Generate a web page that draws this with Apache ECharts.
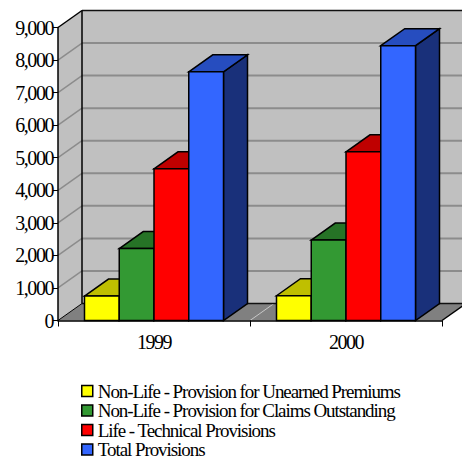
<!DOCTYPE html>
<html>
<head>
<meta charset="utf-8">
<style>
html,body{margin:0;padding:0;background:#fff}
#chart{width:462px;height:459px}
#chart text{letter-spacing:-1.45px}
#chart text[style*="19px"]{letter-spacing:-1.06px}
</style>
<script src="https://cdn.jsdelivr.net/npm/echarts@6/dist/echarts.min.js"></script>
</head>
<body>
<div id="chart"></div>
<script>
const years = ['1999', '2000'];
const yTicks = [0, 1000, 2000, 3000, 4000, 5000, 6000, 7000, 8000, 9000];
const unearnedPremiums = [750, 760];
const claimsOutstanding = [2210, 2470];
const technicalProvisions = [4660, 5180];
const totalProvisions = [7640, 8440];

const seriesNames = [
  'Non-Life - Provision for Unearned Premiums',
  'Non-Life - Provision for Claims Outstanding',
  'Life - Technical Provisions',
  'Total Provisions'
];
const seriesValues = [unearnedPremiums, claimsOutstanding, technicalProvisions, totalProvisions];
const faceColors = ['#ffff00', '#339933', '#ff0000', '#3366ff'];
const topColors = ['#bfbf00', '#267326', '#bf0000', '#264dbf'];
const sideColors = ['#808000', '#1a4d1a', '#800000', '#19307a'];

// Oblique projection of the chart box, in pixels
const DEPTH_X = 24;
const DEPTH_Y = -17;
const SERIES_COUNT = 4;
const BAR_SHARE = 0.181;   // one bar as a share of the category band

const FONT = '"Liberation Serif", serif';

function poly(points, fill, stroke, width) {
  return {
    type: 'polygon',
    shape: { points },
    style: { fill, stroke: stroke || null, lineWidth: width || 0, lineJoin: 'miter' }
  };
}
function line(x1, y1, x2, y2, stroke, width) {
  return {
    type: 'line',
    shape: { x1, y1, x2, y2 },
    style: { stroke, lineWidth: width, fill: null }
  };
}

// Walls, floor and gridlines of the 3D box
function renderBox(params, api) {
  const cs = params.coordSys;
  const left = cs.x, right = cs.x + cs.width;
  const bottom = api.coord([0, 0])[1];
  const top = api.coord([0, yTicks[yTicks.length - 1]])[1];
  const dx = DEPTH_X, dy = DEPTH_Y;
  const kids = [];
  kids.push(poly([[left + dx, top + dy], [right + dx, top + dy], [right + dx, bottom + dy], [left + dx, bottom + dy]], '#c0c0c0'));
  kids.push(poly([[left, top], [left + dx, top + dy], [left + dx, bottom + dy], [left, bottom]], '#c0c0c0'));
  kids.push(poly([[left, bottom], [left + dx, bottom + dy], [right + dx, bottom + dy], [right, bottom]], '#808080'));
  yTicks.slice(1, -1).forEach(function (v) {
    const y = api.coord([0, v])[1];
    kids.push(line(left, y, left + dx, y + dy, '#8c8c8c', 1.5));
    kids.push(line(left + dx, y + dy, right + dx, y + dy, '#8c8c8c', 2));
  });
  // Category boundary marked across the floor
  const mid = (left + right) / 2;
  kids.push(line(mid, bottom, mid + dx, bottom + dy, '#c8c8c8', 1));
  kids.push(line(left, top, left + dx, top + dy, '#000', 1.5));
  kids.push(line(left + dx, top + dy, right + dx, top + dy, '#111', 1.5));
  kids.push(line(left + dx, top + dy, left + dx, bottom + dy, '#000', 1.5));
  kids.push(line(left + dx, bottom + dy, right + dx, bottom + dy, '#111', 1.5));
  kids.push(line(left, bottom, left + dx, bottom + dy, '#000', 1));
  kids.push(line(right, bottom, right + dx, bottom + dy, '#000', 1.5));
  return { type: 'group', children: kids };
}

// One extruded bar: side, top, then the front face
function renderBar(seriesIndex) {
  return function (params, api) {
    const center = api.coord([api.value(0), 0]);
    const band = api.size([1, 0])[0];
    const barW = band * BAR_SHARE;
    const x0 = center[0] - barW * SERIES_COUNT / 2 + seriesIndex * barW;
    const x1 = x0 + barW;
    const yBase = center[1];
    const yTop = api.coord([api.value(0), api.value(1)])[1];
    const dx = DEPTH_X, dy = DEPTH_Y;
    return {
      type: 'group',
      children: [
        poly([[x1, yTop], [x1 + dx, yTop + dy], [x1 + dx, yBase + dy], [x1, yBase]], sideColors[seriesIndex], '#000', 1.5),
        poly([[x0, yTop], [x0 + dx, yTop + dy], [x1 + dx, yTop + dy], [x1, yTop]], topColors[seriesIndex], '#000', 1.5),
        poly([[x0, yTop], [x1, yTop], [x1, yBase], [x0, yBase]], faceColors[seriesIndex], '#000', 1.5)
      ]
    };
  };
}

const chart = echarts.init(document.getElementById('chart'), null, { renderer: 'svg' });

chart.setOption({
  animation: false,
  backgroundColor: '#ffffff',
  grid: { left: 58, top: 27.5, width: 384, height: 293, containLabel: false },
  xAxis: {
    type: 'category',
    data: years,
    axisLine: { show: true, onZero: false, lineStyle: { color: '#000', width: 1.5 } },
    axisTick: { show: true, length: 6, alignWithLabel: false, lineStyle: { color: '#000', width: 1 } },
    axisLabel: { color: '#000', fontFamily: FONT, fontSize: 20, margin: 11 },
    z: 5
  },
  yAxis: {
    type: 'value',
    min: 0,
    max: 9000,
    interval: 1000,
    axisLine: { show: true, lineStyle: { color: '#000', width: 1.5 } },
    axisTick: { show: true, length: 5, lineStyle: { color: '#000', width: 1 } },
    axisLabel: {
      color: '#000', fontFamily: FONT, fontSize: 20, margin: 5,
      formatter: function (v) { return v.toLocaleString('en-US'); }
    },
    splitLine: { show: false },
    z: 5
  },
  legend: {
    orient: 'vertical',
    left: 81,
    top: 381.5,
    height: 90,
    padding: 0,
    itemWidth: 11,
    itemHeight: 11,
    itemGap: 0.5,
    icon: 'rect',
    data: seriesNames,
    itemStyle: { borderColor: '#000', borderWidth: 1.5 },
    textStyle: { color: '#000', fontFamily: FONT, fontSize: 19 },
    selectedMode: false
  },
  series: [
    {
      type: 'custom',
      silent: true,
      z: 1,
      clip: false,
      renderItem: renderBox,
      data: [[0, 0]],
      encode: { x: 0, y: 1 }
    }
  ].concat(seriesNames.map(function (name, i) {
    return {
      type: 'custom',
      name: name,
      z: 2 + i,
      clip: false,
      itemStyle: { color: faceColors[i] },
      renderItem: renderBar(i),
      data: seriesValues[i].map(function (v, c) { return [c, v]; }),
      encode: { x: 0, y: 1 }
    };
  }))
});
</script>
</body>
</html>
